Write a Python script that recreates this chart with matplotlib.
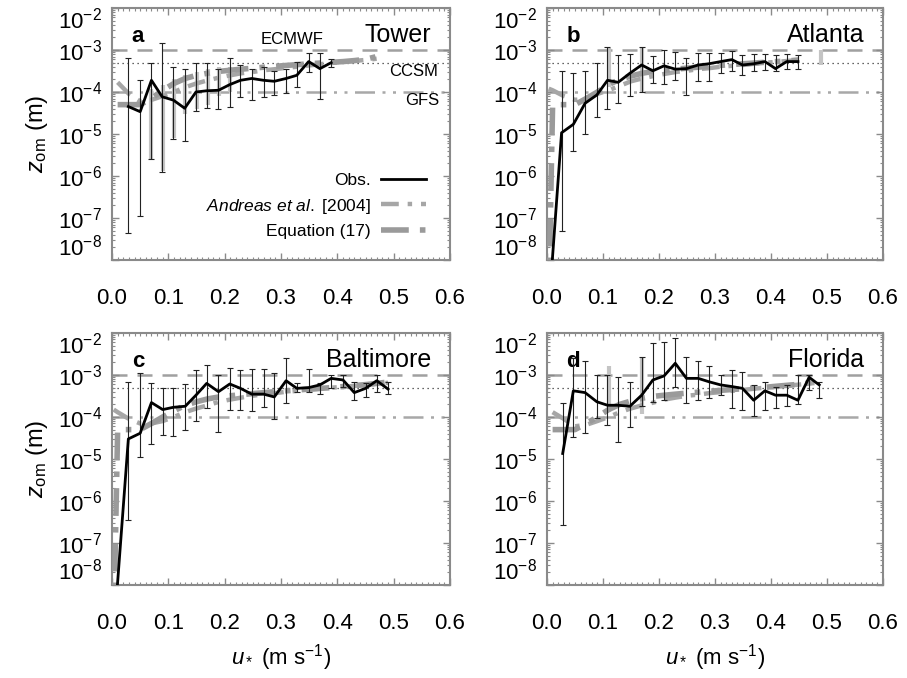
import numpy as np
import matplotlib
matplotlib.use('Agg')
import matplotlib.pyplot as plt
from matplotlib.ticker import MultipleLocator, LogLocator, NullFormatter

plt.rcParams['font.family'] = ['Liberation Sans', 'DejaVu Sans']
plt.rcParams['mathtext.fontset'] = 'custom'
plt.rcParams['mathtext.rm'] = 'Liberation Sans'
plt.rcParams['mathtext.it'] = 'Liberation Sans:italic'
plt.rcParams['mathtext.bf'] = 'Liberation Sans:bold'

nan = np.nan

# Наблюдения (Obs.) для четырёх площадок
tower_x = [0.029, 0.050, 0.070, 0.089, 0.109, 0.129, 0.149, 0.168, 0.189, 0.209,
           0.228, 0.248, 0.269, 0.288, 0.309, 0.328, 0.349, 0.369, 0.389]
tower_y = [4.5e-5, 3.4e-5, 1.9e-4, 7.7e-5, 6.4e-5, 4.1e-5, 1.0e-4, 1.07e-4, 1.1e-4, 1.5e-4,
           1.9e-4, 2.1e-4, 1.9e-4, 1.8e-4, 2.1e-4, 2.5e-4, 5.3e-4, 3.6e-4, 5.0e-4]
tower_hi = [6.3e-4, 1.9e-4, 4.8e-4, 1.5e-3, 4e-4, 3.5e-4, 5e-4, 5e-4, 3.6e-4, 6.3e-4,
            4.3e-4, 3.6e-4, 4e-4, 3.1e-4, 3.6e-4, 5.3e-4, 8.6e-4, 8.6e-4, 6e-4]
tower_lo = [4.4e-8, 1.1e-7, 2.5e-6, 1.26e-6, 7.5e-6, 7e-6, 3.6e-5, 4.1e-5, 4e-5, 4.5e-5,
            7.7e-5, 6.4e-5, 7.7e-5, 8.5e-5, 9.5e-5, 1.3e-4, 3e-4, 7e-5, 4e-4]

atlanta_x = [0.004, 0.026, 0.047, 0.068, 0.089, 0.108, 0.127, 0.148, 0.169, 0.189, 0.209, 0.229,
             0.249, 0.270, 0.289, 0.310, 0.330, 0.349, 0.369, 0.389, 0.408, 0.428, 0.448]
atlanta_y = [1e-9, 1.07e-5, 1.7e-5, 5.4e-5, 8.5e-5, 1.9e-4, 1.7e-4, 2.8e-4, 4.4e-4, 3.2e-4, 4.2e-4, 3.5e-4,
             3.6e-4, 4.4e-4, 4.7e-4, 5.3e-4, 5.9e-4, 4.4e-4, 4.7e-4, 5.3e-4, 3.6e-4, 5.3e-4, 5.3e-4]
atlanta_hi = [nan, 3.2e-4, 2.9e-4, 3.2e-4, 4.8e-4, 1.2e-3, 7.6e-4, 7.9e-4, 1.2e-3, 7.2e-4, 1e-3, 8.8e-4,
              6.3e-4, 8.6e-4, 8.6e-4, 8.6e-4, 9.6e-4, 7.6e-4, 8e-4, 8e-4, 7.8e-4, 8e-4, 7.6e-4]
atlanta_lo = [nan, 5e-8, 4e-6, 1.0e-5, 2.5e-5, 3.9e-5, 5.6e-5, 8e-5, 1.0e-4, 1.6e-4, 1.55e-4, 1.9e-4,
              8.5e-5, 1.8e-4, 1.8e-4, 2.8e-4, 3.1e-4, 2.5e-4, 3.1e-4, 3.3e-4, 3.1e-4, 3.5e-4, 3.5e-4]

baltimore_x = [0.004, 0.029, 0.050, 0.070, 0.090, 0.109, 0.130, 0.149, 0.168, 0.189, 0.209, 0.228, 0.248,
               0.269, 0.288, 0.309, 0.328, 0.349, 0.369, 0.389, 0.410, 0.430, 0.450, 0.470, 0.490]
baltimore_y = [1e-9, 3e-5, 4.1e-5, 2.2e-4, 1.5e-4, 1.7e-4, 1.8e-4, 3.3e-4, 6.3e-4, 4e-4, 6.1e-4, 4.8e-4, 3.5e-4,
               3.5e-4, 3e-4, 7.3e-4, 4.8e-4, 5e-4, 5.8e-4, 8.3e-4, 7.6e-4, 3.8e-4, 4.8e-4, 7.3e-4, 4.6e-4]
baltimore_hi = [nan, 6.9e-4, 1.1e-3, 6.3e-4, 4.8e-4, 4.8e-4, 6.1e-4, 1.3e-3, 1.7e-3, 1e-3, 1.5e-3, 1.3e-3, 1.4e-3,
                1.35e-3, 1.1e-3, 2.5e-3, 6.3e-4, 1.35e-3, 6.3e-4, 1e-3, 1e-3, 6.9e-4, 6.3e-4, 1e-3, 6.9e-4]
baltimore_lo = [nan, 3.5e-7, 1.1e-5, 2.3e-5, 3.7e-5, 3.5e-5, 4.9e-5, 8.1e-5, 1.6e-4, 4.5e-5, 1.5e-4, 1.5e-4, 1.4e-4,
                1.7e-4, 8.8e-5, 2.1e-4, 3.9e-4, 3.9e-4, 3.5e-4, 5e-4, 5.3e-4, 2.5e-4, 3e-4, 3.9e-4, 3.5e-4]

florida_x = [0.028, 0.047, 0.068, 0.089, 0.108, 0.127, 0.148, 0.169, 0.189, 0.209, 0.229, 0.249,
             0.270, 0.289, 0.310, 0.330, 0.349, 0.369, 0.389, 0.408, 0.428, 0.448, 0.468, 0.486]
florida_y = [1.35e-5, 4.2e-4, 3.8e-4, 2.3e-4, 1.9e-4, 1.9e-4, 1.8e-4, 3.3e-4, 7.6e-4, 9.5e-4, 1.9e-3, 8.3e-4,
             8.3e-4, 6.9e-4, 5.8e-4, 5.3e-4, 4.8e-4, 2.5e-4, 4.2e-4, 3.3e-4, 3.3e-4, 2.5e-4, 8.8e-4, 5.8e-4]
florida_hi = [2.1e-4, 2.5e-3, 2.1e-3, 1e-3, 1e-3, 9e-4, 6.9e-4, 2.7e-3, 5.7e-3, 6.2e-3, 7.5e-3, 2.7e-3,
              2.1e-3, 1.6e-3, 1e-3, 1.3e-3, 1.2e-3, 5.8e-4, 6.9e-4, 5.3e-4, 5.8e-4, 1e-3, 1e-3, 6.9e-4]
florida_lo = [2.7e-7, 3.4e-5, 4.1e-5, 9.3e-5, 6.5e-5, 2.6e-5, 5.9e-5, 1.8e-4, 2.3e-4, 2.5e-4, 5.3e-4, 2.1e-4,
              2.5e-4, 2.8e-4, 3.3e-4, 1.6e-4, 1.5e-4, 1.05e-4, 1.5e-4, 1.6e-4, 1.8e-4, 2e-4, 4.5e-4, 2.9e-4]

# Модельные кривые (Andreas et al. [2004] и уравнение (17)) на общей сетке u*
model_x = [0.003, 0.01, 0.03, 0.05, 0.07, 0.09, 0.11, 0.13, 0.15, 0.17, 0.19, 0.21, 0.23,
           0.25, 0.27, 0.29, 0.31, 0.33, 0.35, 0.37, 0.39, 0.41, 0.43, 0.45, 0.47, 0.49]
andreas_tower = [nan, 1.7e-4, 9e-5, 6e-5, 6.5e-5, 8e-5, 1.0e-4, 1.3e-4, 1.6e-4, 1.9e-4, 2.2e-4, 2.5e-4, 2.8e-4,
                 3.0e-4, 3.3e-4, 3.5e-4, 3.8e-4, 4.0e-4, 4.3e-4, 4.6e-4, 4.9e-4, 5.2e-4, 5.5e-4, 5.8e-4, 6.2e-4, nan]
eq17_tower = [nan, 5e-5, 5e-5, 5e-5, 7e-5, 1.1e-4, 1.6e-4, 2.1e-4, 2.5e-4, 2.8e-4, 3.1e-4, 3.3e-4, 3.5e-4,
              3.7e-4, 3.9e-4, 4.1e-4, 4.3e-4, 4.5e-4, 4.7e-4, 4.9e-4, 5.1e-4, 5.3e-4, 5.6e-4, 6.0e-4, 7.0e-4, nan]
andreas_atlanta = [1.2e-4, 1.1e-4, 8e-5, 6.5e-5, 7e-5, 9e-5, 1.1e-4, 1.4e-4, 1.8e-4, 2.1e-4, 2.4e-4, 2.7e-4, 3.0e-4,
                   3.2e-4, 3.5e-4, 3.7e-4, 4.0e-4, 4.2e-4, 4.4e-4, 4.7e-4, 5.0e-4, 5.2e-4, 5.5e-4, 5.8e-4, nan, nan]
eq17_atlanta = [1e-9, 5e-5, 5e-5, 5e-5, 7e-5, 1.0e-4, 1.5e-4, 2.0e-4, 2.4e-4, 2.8e-4, 3.1e-4, 3.3e-4, 3.5e-4,
                3.7e-4, 3.9e-4, 4.1e-4, 4.3e-4, 4.5e-4, 4.7e-4, 4.9e-4, 5.1e-4, 5.3e-4, 5.5e-4, 5.8e-4, nan, nan]
andreas_baltimore = [1.5e-4, 1.3e-4, 9e-5, 7e-5, 7e-5, 8e-5, 1.0e-4, 1.3e-4, 1.6e-4, 1.9e-4, 2.3e-4, 2.6e-4, 2.9e-4,
                     3.2e-4, 3.5e-4, 3.7e-4, 4.0e-4, 4.2e-4, 4.5e-4, 4.7e-4, 5.0e-4, 5.2e-4, 5.5e-4, 5.8e-4, 6.2e-4, 6.5e-4]
eq17_baltimore = [1e-9, 5e-5, 5e-5, 5e-5, 7e-5, 1.0e-4, 1.4e-4, 1.9e-4, 2.3e-4, 2.7e-4, 3.0e-4, 3.2e-4, 3.4e-4,
                  3.6e-4, 3.8e-4, 4.0e-4, 4.2e-4, 4.4e-4, 4.6e-4, 4.8e-4, 5.0e-4, 5.3e-4, 5.6e-4, 5.9e-4, 6.3e-4, 6.8e-4]
andreas_florida = [nan, 1.3e-4, 9e-5, 6e-5, 6.5e-5, 8e-5, 1.0e-4, 1.3e-4, 1.6e-4, 1.9e-4, 2.2e-4, 2.6e-4, 2.9e-4,
                   3.2e-4, 3.4e-4, 3.7e-4, 3.9e-4, 4.2e-4, 4.4e-4, 4.7e-4, 5.0e-4, 5.3e-4, 5.6e-4, 5.9e-4, 6.3e-4, 6.6e-4]
eq17_florida = [nan, 5e-5, 5e-5, 5e-5, 7e-5, 1.0e-4, 1.5e-4, 2.0e-4, 2.4e-4, 2.8e-4, 3.1e-4, 3.3e-4, 3.5e-4,
                3.7e-4, 3.9e-4, 4.1e-4, 4.3e-4, 4.5e-4, 4.7e-4, 4.9e-4, 5.1e-4, 5.4e-4, 5.7e-4, 6.0e-4, 6.5e-4, 7.0e-4]

# Серые планки погрешностей моделей
gray_tower_x = [0.07, 0.09, 0.11, 0.13, 0.15, 0.17, 0.19, 0.21]
gray_tower_lo = [2.5e-6, 1.3e-6, 8e-6, 3e-5, 4e-5, 5e-5, 8e-5, 1e-4]
gray_tower_hi = [1.2e-4, 1.5e-4, 2e-4, 2.5e-4, 3e-4, 3.5e-4, 4e-4, 4e-4]
gray_atlanta_x = [0.11, 0.17, 0.49]
gray_atlanta_lo = [1.3e-4, 9.5e-5, 4.5e-4]
gray_atlanta_hi = [1.1e-3, 1.2e-3, 1e-3]
gray_baltimore_x = []
gray_baltimore_lo = []
gray_baltimore_hi = []
gray_florida_x = [0.11, 0.17]
gray_florida_lo = [1.3e-4, 1.2e-4]
gray_florida_hi = [1.6e-3, 2.7e-3]

# Параметризации моделей
ecmwf_z0 = 1e-3
ccsm_z0 = 5e-4
gfs_z0 = 1e-4

y_ticks = [1e-8, 1e-7, 1e-6, 1e-5, 1e-4, 1e-3, 1e-2]
y_ticklabels = [r'$10^{-8}$', r'$10^{-7}$', r'$10^{-6}$', r'$10^{-5}$',
                r'$10^{-4}$', r'$10^{-3}$', r'$10^{-2}$']
x_ticks = [0.0, 0.1, 0.2, 0.3, 0.4, 0.5, 0.6]
x_ticklabels = ['0.0', '0.1', '0.2', '0.3', '0.4', '0.5', '0.6']

panels = [
    ('a', 'Tower', tower_x, tower_y, tower_lo, tower_hi, andreas_tower, eq17_tower,
     gray_tower_x, gray_tower_lo, gray_tower_hi),
    ('b', 'Atlanta', atlanta_x, atlanta_y, atlanta_lo, atlanta_hi, andreas_atlanta, eq17_atlanta,
     gray_atlanta_x, gray_atlanta_lo, gray_atlanta_hi),
    ('c', 'Baltimore', baltimore_x, baltimore_y, baltimore_lo, baltimore_hi, andreas_baltimore, eq17_baltimore,
     gray_baltimore_x, gray_baltimore_lo, gray_baltimore_hi),
    ('d', 'Florida', florida_x, florida_y, florida_lo, florida_hi, andreas_florida, eq17_florida,
     gray_florida_x, gray_florida_lo, gray_florida_hi),
]

fig = plt.figure(figsize=(9.07, 6.78), dpi=100)
positions = [
    [0.1235, 0.6165, 0.3727, 0.3717],
    [0.6031, 0.6165, 0.3705, 0.3717],
    [0.1235, 0.1372, 0.3727, 0.3717],
    [0.6031, 0.1372, 0.3705, 0.3717],
]

spine_gray = '#8a8a8a'

for i, (letter, site, x, y, lo, hi, andreas, eq17, gx, glo, ghi) in enumerate(panels):
    ax = fig.add_axes(positions[i])
    ax.set_yscale('log')

    # Горизонтальные линии моделей
    ax.axhline(ecmwf_z0, color='#a0a0a0', lw=1.8, dashes=(6, 4), zorder=1)
    ax.axhline(ccsm_z0, color='#333333', lw=0.9, dashes=(1, 3), zorder=1)
    ax.axhline(gfs_z0, color='#a8a8a8', lw=1.8, dashes=(8, 3, 1.2, 3, 1.2, 3), zorder=1)

    # Серые планки моделей
    if len(gx):
        ax.vlines(gx, glo, ghi, color='#c4c4c4', lw=3.0, zorder=2)

    ax.plot(model_x, andreas, color='#a6a6a6', lw=3.2, dashes=(4, 2, 1, 2), zorder=3,
            label=r'$\mathit{Andreas\ et\ al.}$ [2004]')
    ax.plot(model_x, eq17, color='#9a9a9a', lw=4.0, dashes=(5, 2, 1, 2), zorder=3,
            label='Equation (17)')

    # Наблюдения
    xo = np.array(x, dtype=float)
    yo = np.array(y, dtype=float)
    lo_arr = np.array(lo, dtype=float)
    hi_arr = np.array(hi, dtype=float)
    ok = ~np.isnan(lo_arr)
    ax.errorbar(xo[ok], yo[ok], yerr=[yo[ok] - lo_arr[ok], hi_arr[ok] - yo[ok]],
                fmt='none', ecolor='#222222', elinewidth=0.8, capsize=2, capthick=0.8, zorder=4)
    ax.plot(xo, yo, color='black', lw=2.0, zorder=5, label='Obs.')

    ax.set_xlim(0.0, 0.6)
    ax.set_ylim(1e-8, 1e-2)

    # Оформление осей
    for sp in ax.spines.values():
        sp.set_color(spine_gray)
        sp.set_linewidth(1.5)
    ax.set_xticks(x_ticks)
    ax.set_xticklabels(x_ticklabels)
    ax.xaxis.set_minor_locator(MultipleLocator(0.01))
    ax.set_yticks(y_ticks)
    ax.set_yticklabels(y_ticklabels)
    ax.yaxis.set_minor_locator(LogLocator(base=10, subs=np.arange(2, 10), numticks=10))
    ax.yaxis.set_minor_formatter(NullFormatter())
    ax.tick_params(which='both', direction='in', top=True, right=True, color=spine_gray)
    ax.tick_params(which='major', length=5, width=1.0)
    ax.tick_params(which='minor', length=2, width=0.8)
    ax.tick_params(axis='x', which='major', labelsize=16, pad=20)
    ax.tick_params(axis='y', which='major', labelsize=16, pad=7)

    # Крайние подписи оси y сдвигаем внутрь, как в оригинале
    yticks = ax.yaxis.get_major_ticks()
    yticks[0].label1.set_va('bottom')
    yticks[-1].label1.set_va('top')

    ax.text(0.077, 0.885, letter, transform=ax.transAxes, fontsize=16, fontweight='bold',
            ha='center', va='center')
    ax.text(0.945, 0.893, site, transform=ax.transAxes, fontsize=18, ha='right', va='center')

    if i in (0, 2):
        ax.set_ylabel(r'$z_{\rm om}$ (m)', fontsize=17, labelpad=6)
    if i in (2, 3):
        ax.set_xlabel(r'$u_*$ (m s$^{-1}$)', fontsize=16, labelpad=6)

    if i == 0:
        ax.text(0.32, 1.75e-3, 'ECMWF', fontsize=12, ha='center', va='center')
        ax.text(0.535, 3.0e-4, 'CCSM', fontsize=12, ha='center', va='center')
        ax.text(0.55, 6.2e-5, 'GFS', fontsize=12, ha='center', va='center')
        handles, labels = ax.get_legend_handles_labels()
        order = [2, 0, 1]
        ax.legend([handles[k] for k in order], [labels[k] for k in order],
                  loc='lower right', bbox_to_anchor=(0.975, 0.02), frameon=False,
                  markerfirst=False, fontsize=12.5, handlelength=2.6, labelspacing=0.5,
                  handletextpad=0.6)

fig.savefig('out.png', dpi=100)
